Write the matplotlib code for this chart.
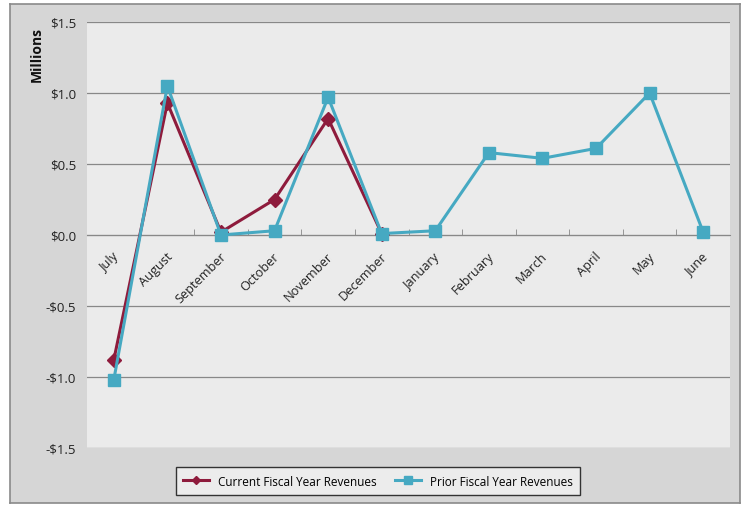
import matplotlib
matplotlib.use("Agg")
import matplotlib.pyplot as plt
from matplotlib.transforms import ScaledTranslation
import numpy as np

months = ["July", "August", "September", "October", "November", "December",
          "January", "February", "March", "April", "May", "June"]
current = [-0.88, 0.93, 0.02, 0.25, 0.82, 0.01]
prior = [-1.02, 1.05, 0.00, 0.03, 0.97, 0.01, 0.03, 0.58, 0.54, 0.61, 1.00, 0.02]
yticks = [-1.5, -1.0, -0.5, 0.0, 0.5, 1.0, 1.5]
ytick_labels = ["-$1.5", "-$1.0", "-$0.5", "$0.0", "$0.5", "$1.0", "$1.5"]

plt.rcParams['font.family'] = ['Open Sans', 'DejaVu Sans']

W, H = 746, 506
fig = plt.figure(figsize=(W / 100, H / 100), dpi=100)
fig.patch.set_facecolor("white")

bg = fig.add_axes([10 / W, 1 - 504 / H, 730 / W, 499 / H], zorder=-5)
bg.set_xticks([])
bg.set_yticks([])
bg.set_facecolor("#d6d6d6")
for s in bg.spines.values():
    s.set_color("#8a8a8a")
    s.set_linewidth(1.2)

ax = fig.add_axes([87 / W, 1 - 449 / H, 643 / W, 426 / H], zorder=1)
ax.set_facecolor("#ebebeb")

x = np.arange(len(months))
red = "#8e1b3c"
cyan = "#46a9c2"
ax.plot(x[:len(current)], current, color=red, lw=2.2, marker="D", ms=7,
        label="Current Fiscal Year Revenues", zorder=3)
ax.plot(x, prior, color=cyan, lw=2.2, marker="s", ms=8.5,
        label="Prior Fiscal Year Revenues", zorder=4)

ax.set_xlim(-0.5, len(months) - 0.5)
ax.set_ylim(-1.5, 1.5)
ax.set_yticks(yticks)
ax.set_yticklabels(ytick_labels, fontsize=9.5)
ax.yaxis.grid(True, color="#888888", lw=0.9)
ax.set_axisbelow(True)
ax.tick_params(axis="y", length=0, pad=8, labelcolor="#222222")

for s in ["top", "right", "left"]:
    ax.spines[s].set_visible(False)
ax.spines["bottom"].set_position(("data", 0))
ax.spines["bottom"].set_color("#888888")

ax.set_xticks(x)
ax.set_xticklabels(months, fontsize=9.2, rotation=45, ha="right", va="center",
                   rotation_mode="anchor")
ax.set_xticks(np.arange(0.5, len(months) - 0.5, 1), minor=True)
ax.tick_params(axis="x", which="major", length=0, pad=0, labelcolor="#222222")
ax.tick_params(axis="x", which="minor", length=4, direction="in", color="#888888")
off = ScaledTranslation(3 / 100, -19 / 100, fig.dpi_scale_trans)
for lab in ax.get_xticklabels():
    lab.set_transform(lab.get_transform() + off)

fig.text(37 / W, 1 - 55 / H, "Millions", rotation=90, ha="center", va="center",
         fontsize=10, fontweight="bold", color="#111111")

leg = fig.legend(loc="center", bbox_to_anchor=(378 / W, 1 - 482 / H), ncol=2,
                 fontsize=8.5, frameon=True, fancybox=False, edgecolor="#333333",
                 facecolor="#ececec", framealpha=1, handlelength=2.2,
                 columnspacing=1.5, borderpad=0.6, markerscale=0.6)
leg.get_frame().set_linewidth(1.0)

fig.savefig("out.png", dpi=100)
